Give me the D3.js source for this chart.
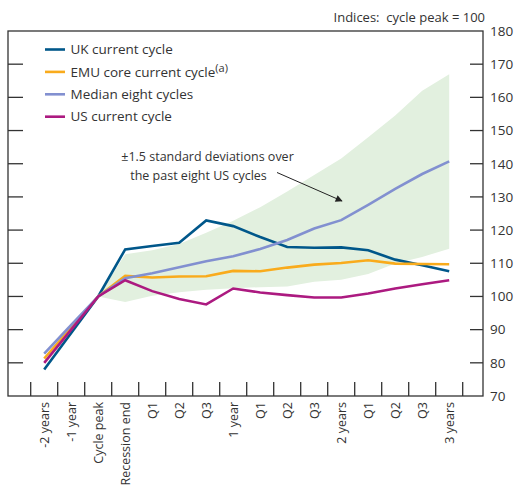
<!DOCTYPE html>
<html>
<head>
<meta charset="utf-8">
<script src="https://cdn.jsdelivr.net/npm/d3@7"></script>
<style>
  html, body { margin: 0; padding: 0; background: #fff; }
  svg text { font-family: "Open Sans", "Noto Sans", sans-serif; fill: #333; }
</style>
</head>
<body>
<svg id="chart" width="516" height="488"></svg>
<script>
// Quarters relative to the cycle peak
const categories = ["-2 years", "-1 year", "Cycle peak", "Recession end", "Q1", "Q2", "Q3",
  "1 year", "Q1", "Q2", "Q3", "2 years", "Q1", "Q2", "Q3", "3 years"];

// Indices, cycle peak = 100
const ukCycle     = [78.0, 89.0, 100, 114.2, 115.2, 116.2, 122.9, 121.2, 117.9, 114.9, 114.7, 114.8, 113.9, 111.1, 109.4, 107.6];
const emuCycle    = [81.3, 90.6, 100, 106.2, 105.7, 106.0, 106.1, 107.7, 107.6, 108.7, 109.6, 110.1, 110.9, 109.9, 109.8, 109.7];
const medianEight = [82.8, 91.4, 100, 105.5, 107.0, 108.8, 110.6, 112.1, 114.3, 117.0, 120.5, 123.0, 127.6, 132.4, 136.9, 140.7];
const usCycle     = [80.0, 90.0, 100, 104.9, 101.6, 99.2, 97.6, 102.4, 101.2, 100.4, 99.7, 99.7, 100.9, 102.4, 103.7, 104.9];

// ±1.5 standard deviation band over the past eight US cycles (from cycle peak onward)
const bandStart = 2;
const bandLower = [100, 98.3, 100.2, 101.3, 102.0, 102.5, 102.8, 103.0, 104.4, 105.0, 106.8, 109.9, 111.9, 114.4];
const bandUpper = [100, 112.7, 113.9, 115.8, 119.2, 122.8, 126.9, 131.6, 136.6, 141.6, 148.0, 154.5, 162.0, 167.0];

const yTicks = [70, 80, 90, 100, 110, 120, 130, 140, 150, 160, 170, 180];

const series = [
  { name: "UK current cycle", values: ukCycle, color: "#00578a" },
  { name: "EMU core current cycle", sup: "(a)", values: emuCycle, color: "#f9ab1c" },
  { name: "Median eight cycles", values: medianEight, color: "#8290d0" },
  { name: "US current cycle", values: usCycle, color: "#ac1a80" }
];

const svg = d3.select("#chart");
const frame = { left: 8, right: 483, top: 31, bottom: 396 };

const x = d3.scaleBand().domain(d3.range(categories.length)).range([30.7, 462.7]).padding(0);
const cx = i => x(i) + x.bandwidth() / 2;
const y = d3.scaleLinear().domain([70, 180]).range([frame.bottom, frame.top]);

// Shaded band
const bandData = bandLower.map((lo, k) => ({ i: bandStart + k, lo, hi: bandUpper[k] }));
svg.append("path")
  .datum(bandData)
  .attr("fill", "#e2f0df")
  .attr("d", d3.area().x(d => cx(d.i)).y0(d => y(d.lo)).y1(d => y(d.hi)));

// Series lines
const line = d3.line().x((d, i) => cx(i)).y(d => y(d));
svg.append("g").selectAll("path")
  .data(series)
  .join("path")
  .attr("fill", "none")
  .attr("stroke", d => d.color)
  .attr("stroke-width", 2.6)
  .attr("stroke-linejoin", "miter")
  .attr("d", d => line(d.values));

// Frame
svg.append("rect")
  .attr("x", frame.left).attr("y", frame.top)
  .attr("width", frame.right - frame.left).attr("height", frame.bottom - frame.top)
  .attr("fill", "none").attr("stroke", "#333").attr("stroke-width", 1.3);

// Inner y ticks on both sides
const innerY = yTicks.filter(v => v > 70 && v < 180);
svg.append("g").selectAll("line")
  .data(innerY).join("line")
  .attr("x1", frame.left).attr("x2", frame.left + 15)
  .attr("y1", d => y(d)).attr("y2", d => y(d))
  .attr("stroke", "#333").attr("stroke-width", 1.3);
svg.append("g").selectAll("line")
  .data(innerY).join("line")
  .attr("x1", frame.right - 13).attr("x2", frame.right)
  .attr("y1", d => y(d)).attr("y2", d => y(d))
  .attr("stroke", "#333").attr("stroke-width", 1.3);

// Right axis labels
const yAxis = svg.append("g")
  .attr("transform", `translate(${frame.right},0)`)
  .call(d3.axisRight(y).tickValues(yTicks).tickSize(0).tickPadding(7).tickFormat(d3.format("d")));
yAxis.select(".domain").remove();
yAxis.selectAll("text").style("font-size", "13.5px").attr("fill", "#333");

// X ticks at band boundaries, pointing inward
const xBounds = d3.range(categories.length + 1).map(i => i < categories.length ? x(i) : x(i - 1) + x.bandwidth());
svg.append("g").selectAll("line")
  .data(xBounds).join("line")
  .attr("x1", d => d).attr("x2", d => d)
  .attr("y1", frame.bottom).attr("y2", frame.bottom - 14)
  .attr("stroke", "#333").attr("stroke-width", 1.3);

// X labels, rotated
const xAxis = svg.append("g")
  .attr("transform", `translate(0,${frame.bottom})`)
  .call(d3.axisBottom(x).tickSize(0).tickFormat(i => categories[i]));
xAxis.select(".domain").remove();
xAxis.selectAll("text")
  .attr("transform", "rotate(-90)")
  .attr("text-anchor", "end")
  .attr("dy", "0.35em")
  .attr("x", -6).attr("y", 0)
  .style("font-size", "12.5px")
  .attr("fill", "#333");

// Units note
svg.append("text")
  .attr("x", 485).attr("y", 22)
  .attr("text-anchor", "end")
  .style("font-size", "13px")
  .style("white-space", "pre")
  .text("Indices:  cycle peak = 100");

// Legend
const legend = svg.append("g");
series.forEach((s, k) => {
  const ly = 49.5 + k * 22.4;
  legend.append("line")
    .attr("x1", 45).attr("x2", 65).attr("y1", ly).attr("y2", ly)
    .attr("stroke", s.color).attr("stroke-width", 2.6);
  const t = legend.append("text")
    .attr("x", 70.5).attr("y", ly).attr("dy", "0.35em")
    .style("font-size", "13.5px")
    .text(s.name);
  if (s.sup) {
    t.append("tspan").attr("dy", "-0.45em").style("font-size", "11px").text(s.sup);
  }
});

// Band annotation
svg.append("text").attr("x", 207.5).attr("y", 160.5).attr("text-anchor", "middle")
  .style("font-size", "12.5px").text("±1.5 standard deviations over");
svg.append("text").attr("x", 198.5).attr("y", 180).attr("text-anchor", "middle")
  .style("font-size", "12.5px").text("the past eight US cycles");

svg.append("defs").append("marker")
  .attr("id", "arrowhead")
  .attr("viewBox", "0 0 10 10")
  .attr("refX", 9).attr("refY", 5)
  .attr("markerWidth", 9).attr("markerHeight", 7)
  .attr("markerUnits", "userSpaceOnUse")
  .attr("orient", "auto")
  .append("path").attr("d", "M0,0 L10,5 L0,10 z").attr("fill", "#222");

svg.append("line")
  .attr("x1", 277).attr("y1", 172.5)
  .attr("x2", 342).attr("y2", 201)
  .attr("stroke", "#222").attr("stroke-width", 1)
  .attr("marker-end", "url(#arrowhead)");
</script>
</body>
</html>
